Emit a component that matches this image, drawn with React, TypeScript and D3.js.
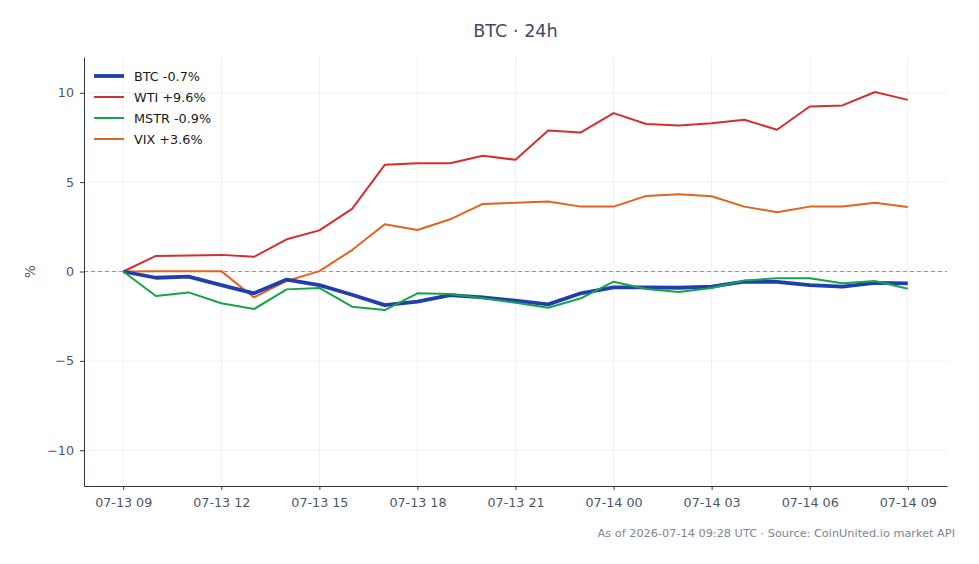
import { useEffect, useRef } from 'react'
import * as d3 from 'd3'

const hours = [
  '2026-07-13T09', '2026-07-13T10', '2026-07-13T11', '2026-07-13T12', '2026-07-13T13',
  '2026-07-13T14', '2026-07-13T15', '2026-07-13T16', '2026-07-13T17', '2026-07-13T18',
  '2026-07-13T19', '2026-07-13T20', '2026-07-13T21', '2026-07-13T22', '2026-07-13T23',
  '2026-07-14T00', '2026-07-14T01', '2026-07-14T02', '2026-07-14T03', '2026-07-14T04',
  '2026-07-14T05', '2026-07-14T06', '2026-07-14T07', '2026-07-14T08', '2026-07-14T09'
]

const btc = [0, -0.35, -0.29, -0.76, -1.22, -0.45, -0.76, -1.3, -1.88, -1.69, -1.32, -1.45, -1.63, -1.84, -1.22, -0.89, -0.89, -0.91, -0.85, -0.57, -0.58, -0.76, -0.85, -0.64, -0.66]
const wti = [0, 0.87, 0.9, 0.93, 0.82, 1.8, 2.3, 3.5, 5.97, 6.06, 6.06, 6.47, 6.25, 7.89, 7.78, 8.86, 8.25, 8.17, 8.3, 8.49, 7.93, 9.23, 9.29, 10.04, 9.6]
const mstr = [0, -1.37, -1.17, -1.78, -2.1, -1.0, -0.92, -1.97, -2.16, -1.22, -1.26, -1.5, -1.75, -2.03, -1.5, -0.57, -0.98, -1.15, -0.92, -0.51, -0.38, -0.38, -0.66, -0.53, -0.96]
const vix = [0, 0.02, 0.02, 0.02, -1.45, -0.53, 0.02, 1.2, 2.64, 2.32, 2.92, 3.78, 3.85, 3.91, 3.63, 3.63, 4.23, 4.32, 4.21, 3.63, 3.32, 3.63, 3.63, 3.84, 3.61]

const seriesNames = ['BTC -0.7%', 'WTI +9.6%', 'MSTR -0.9%', 'VIX +3.6%']
const seriesValues = [btc, wti, mstr, vix]
const seriesColors = ['#1f3fae', '#d32f2f', '#16a34a', '#e4621b']
const seriesWidths = [3.8, 2, 2, 2]

const yTicks = [-10, -5, 0, 5, 10]

export default function App() {
  const svgRef = useRef<SVGSVGElement>(null)

  useEffect(() => {
    if (!svgRef.current) return
    const width = 979
    const height = 564
    const font = 'DejaVu Sans, sans-serif'

    const svg = d3.select(svgRef.current)
    svg.selectAll('*').remove()
    svg.attr('width', width).attr('height', height)

    const left = 84, right = 947, top = 57, bottom = 486
    const parse = d3.utcParse('%Y-%m-%dT%H')
    const dates = hours.map(h => parse(h) as Date)
    const t0 = dates[0].getTime(), t1 = dates[dates.length - 1].getTime()
    const pad = (t1 - t0) * 0.05

    const x = d3.scaleUtc().domain([new Date(t0 - pad), new Date(t1 + pad)]).range([left, right])
    const y = d3.scaleLinear().domain([-12, 12]).range([bottom, top])

    const xTicks = d3.range(0, dates.length, 3).map(i => dates[i])
    const fmt = d3.utcFormat('%m-%d %H')

    // grid
    const grid = svg.append('g')
    grid.selectAll('.gx').data(xTicks).enter().append('line')
      .attr('x1', d => x(d)).attr('x2', d => x(d))
      .attr('y1', top).attr('y2', bottom)
      .attr('stroke', '#e8ebf0').attr('stroke-width', 0.8)
    grid.selectAll('.gy').data(yTicks).enter().append('line')
      .attr('x1', left).attr('x2', right)
      .attr('y1', d => y(d)).attr('y2', d => y(d))
      .attr('stroke', '#e8ebf0').attr('stroke-width', 0.8)

    // zero line
    svg.append('line')
      .attr('x1', left).attr('x2', right)
      .attr('y1', y(0)).attr('y2', y(0))
      .attr('stroke', '#8c9ab8').attr('stroke-width', 1)
      .attr('stroke-dasharray', '4,3')

    // lines
    const line = d3.line<number>()
      .x((_, i) => x(dates[i]))
      .y(d => y(d))

    const drawOrder = [1, 3, 0, 2]
    drawOrder.forEach(k => {
      svg.append('path')
        .attr('d', line(seriesValues[k]))
        .attr('fill', 'none')
        .attr('stroke', seriesColors[k])
        .attr('stroke-width', seriesWidths[k])
        .attr('stroke-linejoin', 'round')
        .attr('stroke-linecap', 'butt')
    })

    // axes
    const xAxis = svg.append('g')
      .attr('transform', `translate(0,${bottom})`)
      .call(d3.axisBottom(x).tickValues(xTicks).tickFormat(d => fmt(d as Date)).tickSize(4).tickPadding(8).tickSizeOuter(0))
    const yAxis = svg.append('g')
      .attr('transform', `translate(${left},0)`)
      .call(d3.axisLeft(y).tickValues(yTicks).tickFormat(d => d3.format('d')(d as number).replace('-', '\u2212')).tickSize(4).tickPadding(6).tickSizeOuter(0))

    ;[xAxis, yAxis].forEach(a => {
      a.select('.domain').attr('stroke', '#2d3748').attr('stroke-width', 1)
      a.selectAll('.tick line').attr('stroke', '#2d3748')
      a.selectAll('.tick text').attr('fill', '#4a5568').style('font-size', '12.7px').style('font-family', font)
    })

    // y label
    svg.append('text')
      .attr('transform', `translate(35,${y(0)}) rotate(-90)`)
      .attr('text-anchor', 'middle')
      .style('font-size', '13.5px').style('font-family', font)
      .attr('fill', '#4a5568')
      .text('%')

    // title
    svg.append('text')
      .attr('x', (left + right) / 2).attr('y', 37)
      .attr('text-anchor', 'middle')
      .style('font-size', '17.6px').style('font-family', font)
      .attr('fill', '#3f4b5f')
      .text('BTC · 24h')

    // legend
    const legend = svg.append('g').attr('transform', 'translate(94,76)')
    const items = legend.selectAll('.item').data(seriesNames).enter().append('g')
      .attr('transform', (_, i) => `translate(0,${i * 21})`)
    items.append('line')
      .attr('x1', 0).attr('x2', 30).attr('y1', 0).attr('y2', 0)
      .attr('stroke', (_, i) => seriesColors[i])
      .attr('stroke-width', (_, i) => seriesWidths[i])
    items.append('text')
      .attr('x', 40).attr('y', 4.5)
      .style('font-size', '12.8px').style('font-family', font)
      .attr('fill', '#1a1a1a')
      .text(d => d)

    // footer
    svg.append('text')
      .attr('x', 955).attr('y', 537)
      .attr('text-anchor', 'end')
      .style('font-size', '11.3px').style('font-family', font)
      .attr('fill', '#7b8594')
      .text('As of 2026-07-14 09:28 UTC · Source: CoinUnited.io market API')
  }, [])

  return (
    <div style={{ position: 'absolute', left: 0, top: 0, background: 'white' }}>
      <svg ref={svgRef}></svg>
    </div>
  )
}
